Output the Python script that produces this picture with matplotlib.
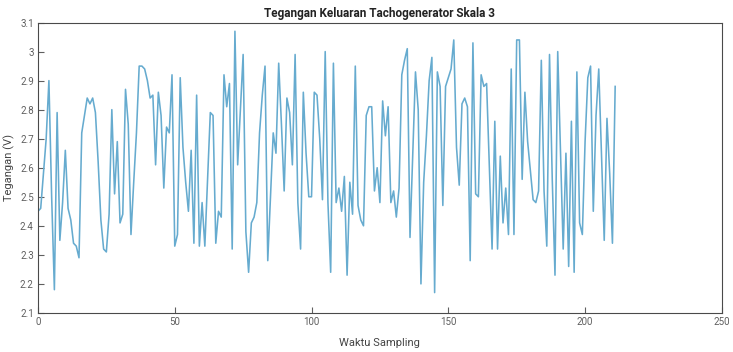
import matplotlib
matplotlib.use("Agg")
import matplotlib.pyplot as plt
from matplotlib import font_manager

# Tachogenerator output voltage, scale 3, one value per sample
voltage = [
    2.45, 2.46, 2.58, 2.70, 2.90, 2.50, 2.18, 2.79, 2.35, 2.48,
    2.66, 2.46, 2.42, 2.34, 2.33, 2.29, 2.72, 2.78, 2.84, 2.82,
    2.84, 2.79, 2.62, 2.42, 2.32, 2.31, 2.44, 2.80, 2.51, 2.69,
    2.41, 2.44, 2.87, 2.75, 2.37, 2.55, 2.72, 2.95, 2.95, 2.94,
    2.90, 2.84, 2.85, 2.61, 2.86, 2.78, 2.53, 2.74, 2.72, 2.92,
    2.33, 2.37, 2.91, 2.67, 2.55, 2.45, 2.66, 2.34, 2.85, 2.33,
    2.48, 2.33, 2.56, 2.79, 2.78, 2.34, 2.45, 2.43, 2.92, 2.81,
    2.89, 2.32, 3.07, 2.61, 2.80, 2.99, 2.38, 2.24, 2.41, 2.43,
    2.48, 2.72, 2.85, 2.95, 2.28, 2.50, 2.72, 2.65, 2.96, 2.75,
    2.52, 2.84, 2.79, 2.61, 2.99, 2.48, 2.32, 2.86, 2.65, 2.50,
    2.50, 2.86, 2.85, 2.70, 2.49, 3.00, 2.48, 2.24, 2.96, 2.48,
    2.53, 2.45, 2.57, 2.23, 2.55, 2.44, 2.95, 2.47, 2.42, 2.40,
    2.78, 2.81, 2.81, 2.52, 2.60, 2.48, 2.83, 2.71, 2.81, 2.48,
    2.52, 2.43, 2.53, 2.92, 2.97, 3.01, 2.36, 2.65, 2.93, 2.80,
    2.20, 2.55, 2.71, 2.90, 2.98, 2.17, 2.93, 2.88, 2.47, 2.88,
    2.91, 2.94, 3.04, 2.67, 2.54, 2.82, 2.84, 2.81, 2.28, 3.03,
    2.51, 2.50, 2.92, 2.88, 2.89, 2.61, 2.32, 2.76, 2.32, 2.64,
    2.41, 2.53, 2.37, 2.94, 2.37, 3.04, 3.04, 2.56, 2.86, 2.69,
    2.59, 2.49, 2.48, 2.52, 2.97, 2.52, 2.33, 2.99, 2.56, 2.23,
    3.00, 2.66, 2.32, 2.65, 2.26, 2.76, 2.24, 2.93, 2.41, 2.37,
    2.69, 2.91, 2.95, 2.45, 2.78, 2.94, 2.64, 2.35, 2.77, 2.58,
    2.34, 2.88,
]
samples = list(range(len(voltage)))

x_ticks = [0, 50, 100, 150, 200, 250]
y_ticks = [2.1, 2.2, 2.3, 2.4, 2.5, 2.6, 2.7, 2.8, 2.9, 3.0, 3.1]
y_tick_labels = ["2.1", "2.2", "2.3", "2.4", "2.5", "2.6", "2.7", "2.8", "2.9", "3", "3.1"]

title = "Tegangan Keluaran Tachogenerator Skala 3"
x_label = "Waktu Sampling"
y_label = "Tegangan (V)"

names = {f.name for f in font_manager.fontManager.ttflist}
family = ["Liberation Sans Narrow"] if "Liberation Sans Narrow" in names else ["Roboto"]
plt.rcParams["font.family"] = family + ["DejaVu Sans"]

fig = plt.figure(figsize=(7.33, 3.52), dpi=100)
ax = fig.add_axes([0.0518, 0.111, 0.933, 0.825])

ax.plot(samples, voltage, color="#66ABCF", linewidth=1.15)

ax.set_xlim(0, 250)
ax.set_ylim(2.1, 3.1)
ax.set_xticks(x_ticks)
ax.set_yticks(y_ticks)
ax.set_yticklabels(y_tick_labels)

tick_gray = "#5f5f5f"
ax.tick_params(direction="in", length=4, width=0.8, colors=tick_gray,
               labelsize=7, pad=3, top=False, right=False)
for side in ["left", "bottom", "right", "top"]:
    ax.spines[side].set_color("#4a4a4a")
    ax.spines[side].set_linewidth(0.8)

ax.set_title(title, fontsize=8.5, fontweight="bold", color="#222222", pad=4)
ax.set_xlabel(x_label, fontsize=8, color="#444444")
ax.set_ylabel(y_label, fontsize=8, color="#444444")
ax.xaxis.set_label_coords(0.5, -0.085)
ax.yaxis.set_label_coords(-0.034, 0.5)

fig.savefig("out.png", dpi=100, facecolor="white")
